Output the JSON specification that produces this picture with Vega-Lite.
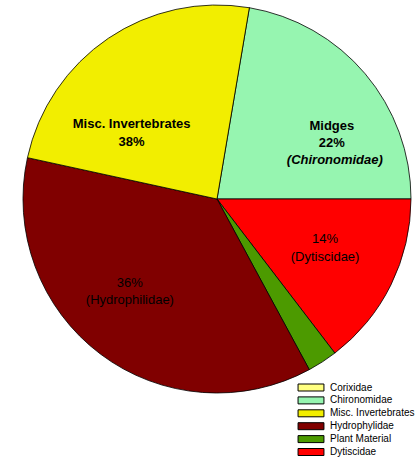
{
  "$schema": "https://vega.github.io/schema/vega-lite/v6.json",
  "width": 420,
  "height": 398,
  "autosize": "none",
  "padding": {"left": 7, "top": 0, "right": 0, "bottom": 60},
  "background": "white",
  "config": {"view": {"stroke": null}, "font": "Liberation Sans"},
  "data": {
    "values": [
      {"group": "Corixidae", "ord": 0, "pct": 0},
      {"group": "Chironomidae", "ord": 1, "pct": 22.33},
      {"group": "Dytiscidae", "ord": 2, "pct": 14.61},
      {"group": "Plant Material", "ord": 3, "pct": 2.5},
      {"group": "Hydrophylidae", "ord": 4, "pct": 36.31},
      {"group": "Misc. Invertebrates", "ord": 5, "pct": 24.25}
    ]
  },
  "encoding": {
    "theta": {"field": "pct", "type": "quantitative", "stack": true, "scale": {"range": [0.1676, 6.4508]}},
    "order": {"field": "ord", "type": "quantitative"}
  },
  "layer": [
    {
      "mark": {"type": "arc", "outerRadius": 194, "stroke": "#000000", "strokeWidth": 0.8},
      "encoding": {
        "color": {
          "field": "group",
          "type": "nominal",
          "scale": {
            "domain": ["Corixidae", "Chironomidae", "Misc. Invertebrates", "Hydrophylidae", "Plant Material", "Dytiscidae"],
            "range": ["#FFFF80", "#96F5B0", "#F2EE00", "#800000", "#4C9A00", "#FF0000"]
          },
          "legend": {
            "title": null,
            "orient": "none",
            "legendX": 299,
            "legendY": 382.5,
            "padding": 0,
            "symbolType": "M-3.7,-1L3.7,-1L3.7,1L-3.7,1Z",
            "symbolSize": 49,
            "symbolStrokeColor": "#000000",
            "symbolStrokeWidth": 1,
            "symbolOpacity": 1,
            "labelFont": "Liberation Sans",
            "labelFontSize": 10,
            "labelColor": "#000000",
            "labelOffset": 14,
            "rowPadding": 0.9
          }
        }
      }
    },
    {
      "mark": {"type": "text", "radius": 115, "dx": -21, "dy": 20.5, "fontSize": 13, "fontWeight": "bold", "lineBreak": "\n", "lineHeight": 18, "baseline": "middle", "color": "#000000"},
      "encoding": {"text": {"condition": {"test": "datum.group === 'Misc. Invertebrates'", "value": "Misc. Invertebrates\n38%"}, "value": ""}}
    },
    {
      "mark": {"type": "text", "radius": 115, "dx": 27, "dy": 1.5, "fontSize": 13, "fontWeight": "bold", "lineBreak": "\n", "lineHeight": 17, "baseline": "middle", "color": "#000000"},
      "encoding": {"text": {"condition": {"test": "datum.group === 'Chironomidae'", "value": "Midges\n22%"}, "value": ""}}
    },
    {
      "mark": {"type": "text", "radius": 115, "dx": 30, "dy": 35, "fontSize": 13, "fontStyle": "italic", "fontWeight": "bold", "baseline": "middle", "color": "#000000"},
      "encoding": {"text": {"condition": {"test": "datum.group === 'Chironomidae'", "value": "(Chironomidae)"}, "value": ""}}
    },
    {
      "mark": {"type": "text", "radius": 115, "dx": 5, "dy": -10.5, "fontSize": 13, "lineBreak": "\n", "lineHeight": 18, "baseline": "middle", "color": "#000000"},
      "encoding": {"text": {"condition": {"test": "datum.group === 'Dytiscidae'", "value": "14%\n(Dytiscidae)"}, "value": ""}}
    },
    {
      "mark": {"type": "text", "radius": 115, "dx": -18, "dy": -8, "fontSize": 13, "lineBreak": "\n", "lineHeight": 17, "baseline": "middle", "color": "#000000"},
      "encoding": {"text": {"condition": {"test": "datum.group === 'Hydrophylidae'", "value": "36%\n(Hydrophilidae)"}, "value": ""}}
    }
  ]
}
